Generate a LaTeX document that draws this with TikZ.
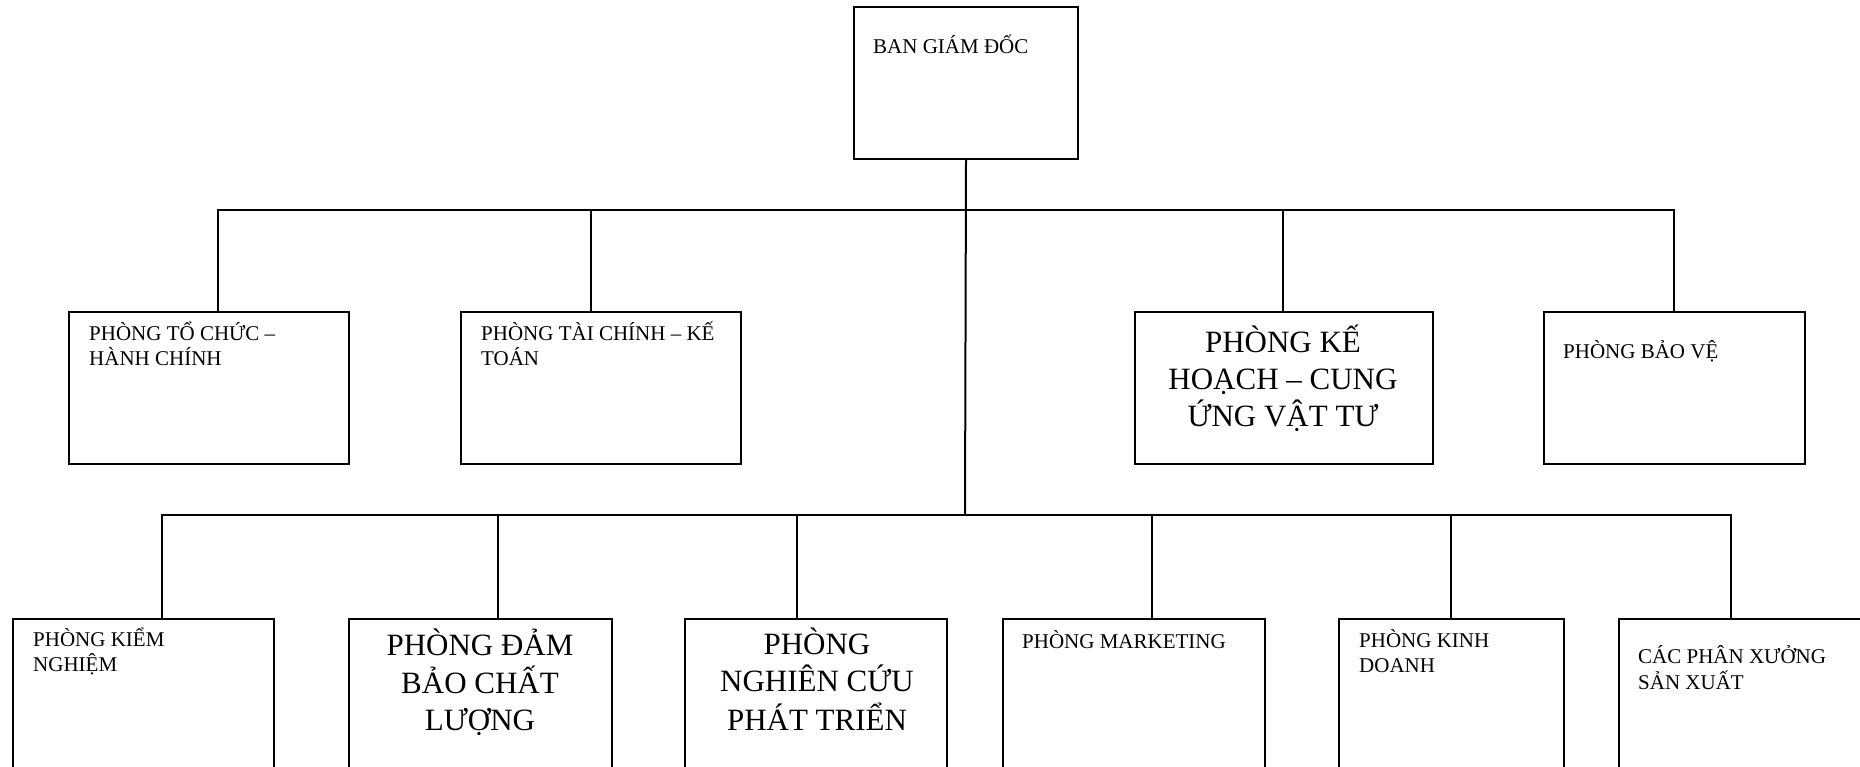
\documentclass[tikz,border=0pt]{standalone}
\usepackage{fontspec}
\setmainfont{Liberation Serif}
\begin{document}
\begin{tikzpicture}[x=1pt,y=-1pt,
  box/.style={draw, line width=2pt, inner sep=0pt, anchor=north west},
  smalltxt/.style={inner sep=0pt, anchor=base west, font=\fontsize{21}{25}\selectfont},
  bigtxt/.style={inner sep=0pt, anchor=base, font=\fontsize{31}{37}\selectfont},
  wire/.style={line width=2pt}]
\useasboundingbox (0,0) rectangle (1860,766);
\clip (0,0) rectangle (1860,766);

% top management
\node[box, minimum width=224pt, minimum height=152pt] (bgd) at (853,6) {};
\node[smalltxt] (tbgd) at (873,53) {BAN GIÁM ĐỐC};

% first row of departments
\node[box, minimum width=280pt, minimum height=152pt] (tc)   at (68,311) {};
\node[box, minimum width=280pt, minimum height=152pt] (tckt) at (460,311) {};
\node[box, minimum width=298pt, minimum height=152pt] (kh)   at (1134,311) {};
\node[box, minimum width=261pt, minimum height=152pt] (bv)   at (1543,311) {};

\node[smalltxt] (ttc) at (89,340)
  {\begin{tabular}[t]{@{}l@{}}PHÒNG TỔ CHỨC –\\HÀNH CHÍNH\end{tabular}};
\node[smalltxt] (ttckt) at (481,340)
  {\begin{tabular}[t]{@{}l@{}}PHÒNG TÀI CHÍNH – KẾ\\TOÁN\end{tabular}};
\node[bigtxt] (tkh) at (1283,352)
  {\begin{tabular}[t]{@{}c@{}}PHÒNG KẾ\\HOẠCH – CUNG\\ỨNG VẬT TƯ\end{tabular}};
\node[smalltxt] (tbv) at (1563,358) {PHÒNG BẢO VỆ};

% second row of departments (run past the lower edge)
\node[box, minimum width=261pt, minimum height=200pt] (kn)  at (12,618) {};
\node[box, minimum width=263pt, minimum height=200pt] (dbcl) at (348,618) {};
\node[box, minimum width=262pt, minimum height=200pt] (nc)  at (684,618) {};
\node[box, minimum width=262pt, minimum height=200pt] (mk)  at (1002,618) {};
\node[box, minimum width=225pt, minimum height=200pt] (kd)  at (1338,618) {};
\node[box, minimum width=262pt, minimum height=200pt] (px)  at (1618,618) {};

\node[smalltxt] (tkn) at (33,646)
  {\begin{tabular}[t]{@{}l@{}}PHÒNG KIỂM\\NGHIỆM\end{tabular}};
\node[bigtxt] (tdbcl) at (480,655)
  {\begin{tabular}[t]{@{}c@{}}PHÒNG ĐẢM\\BẢO CHẤT\\LƯỢNG\end{tabular}};
\node[bigtxt] (tnc) at (817,654)
  {\begin{tabular}[t]{@{}c@{}}PHÒNG\\NGHIÊN CỨU\\PHÁT TRIỂN\end{tabular}};
\node[smalltxt] (tmk) at (1022,648) {PHÒNG MARKETING};
\node[smalltxt] (tkd) at (1359,647)
  {\begin{tabular}[t]{@{}l@{}}PHÒNG KINH\\DOANH\end{tabular}};
\node[smalltxt] (tpx) at (1638,663)
  {\begin{tabular}[t]{@{}l@{}}CÁC PHÂN XƯỞNG\\SẢN XUẤT\end{tabular}};

% junctions and attachment points
\coordinate (j1) at (965,210);
\coordinate (j2) at (965,515);
\coordinate (stc) at (218,311);
\coordinate (stckt) at (591,311);
\coordinate (skh) at (1283,311);
\coordinate (sbv) at (1674,311);
\coordinate (skn) at (162,618);
\coordinate (sdbcl) at (498,618);
\coordinate (snc) at (797,618);
\coordinate (smk) at (1152,618);
\coordinate (skd) at (1451,618);
\coordinate (spx) at (1731,618);

% main trunk
\draw[wire] (bgd.south) -- (j2);
% upper bus
\draw[wire] (stc) |- (j1) -| (sbv);
\draw[wire] (stckt) -- (stckt |- j1);
\draw[wire] (skh) -- (skh |- j1);
% lower bus
\draw[wire] (skn) |- (j2) -| (spx);
\draw[wire] (sdbcl) -- (sdbcl |- j2);
\draw[wire] (snc) -- (snc |- j2);
\draw[wire] (smk) -- (smk |- j2);
\draw[wire] (skd) -- (skd |- j2);
\end{tikzpicture}
\end{document}
